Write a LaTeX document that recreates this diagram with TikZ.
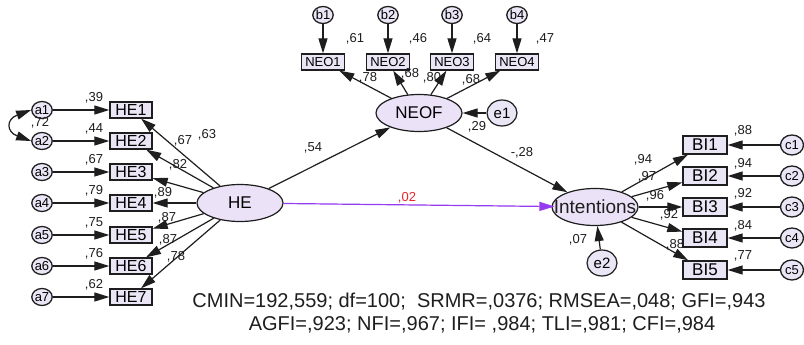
\documentclass[tikz,border=0pt]{standalone}
\usepackage{fontspec}
\setmainfont{Liberation Sans}
\usetikzlibrary{positioning,calc,arrows.meta,shapes.geometric}
\definecolor{boxfill}{RGB}{234,230,246}
\definecolor{latfill}{RGB}{236,226,248}
\definecolor{inkgray}{RGB}{30,30,30}
\definecolor{pathpurple}{RGB}{150,60,240}
\definecolor{labred}{RGB}{230,40,40}

\begin{document}
\begin{tikzpicture}[x=1pt, y=-1pt,
 amos/.tip = {Triangle[length=15pt,width=9pt]},
 obs/.style = {rectangle, draw=inkgray, line width=1.3pt, fill=boxfill, minimum width=42pt, minimum height=16pt, inner sep=0pt, font=\fontsize{16}{16}\selectfont},
 lat/.style = {ellipse, draw=inkgray, line width=1.2pt, fill=latfill, minimum width=86pt, minimum height=37pt, inner sep=0pt, font=\fontsize{17}{17}\selectfont},
 err/.style = {ellipse, draw=inkgray, line width=1.3pt, fill=boxfill, minimum width=20pt, minimum height=17pt, inner sep=0pt, font=\fontsize{13}{13}\selectfont},
 dist/.style = {ellipse, draw=inkgray, line width=1.2pt, fill=boxfill, minimum width=30pt, minimum height=26pt, inner sep=0pt, font=\fontsize{15}{15}\selectfont},
 lbl/.style = {inner sep=0pt, text=inkgray, font=\fontsize{13}{13}\selectfont},
 every edge/.append style={-amos, draw=inkgray, line width=1.2pt}]

\fill[white] (0,0) rectangle (804,345);
\useasboundingbox (0,0) rectangle (804,345);
\clip (0,0) rectangle (804,345);

% HE block
\node[err] (a1) at (42,110) {a1};
\node[err] (a2) at (42,141) {a2};
\node[err] (a3) at (42,172) {a3};
\node[err] (a4) at (42,203) {a4};
\node[err] (a5) at (42,235) {a5};
\node[err] (a6) at (42,266) {a6};
\node[err] (a7) at (42,297) {a7};
\node[obs] (HE1) at (131,110) {HE1};
\node[obs] (HE2) at (131,141) {HE2};
\node[obs] (HE3) at (131,172) {HE3};
\node[obs] (HE4) at (131,203) {HE4};
\node[obs] (HE5) at (131,235) {HE5};
\node[obs] (HE6) at (131,266) {HE6};
\node[obs] (HE7) at (131,297) {HE7};
\node[lat] (HE) at (240,203) {HE};

% NEOF block
\node[lat] (NEOF) at (419,113) {NEOF};
\node[dist] (e1) at (502,113) {e1};
\node[err] (b1) at (323,15) {b1};
\node[err] (b2) at (388,15) {b2};
\node[err] (b3) at (452,15) {b3};
\node[err] (b4) at (517,15) {b4};
\node[obs, font=\fontsize{13}{13}\selectfont, minimum width=43pt] (NEO1) at (323,62) {NEO1};
\node[obs, font=\fontsize{13}{13}\selectfont, minimum width=43pt] (NEO2) at (388,62) {NEO2};
\node[obs, font=\fontsize{13}{13}\selectfont, minimum width=43pt] (NEO3) at (452,62) {NEO3};
\node[obs, font=\fontsize{13}{13}\selectfont, minimum width=43pt] (NEO4) at (517,62) {NEO4};

% Intentions block
\node[lat, label={[font=\fontsize{19}{19}\selectfont, text=inkgray]center:Intentions}] (Int) at (595,207) {};
\node[dist] (e2) at (602,263) {e2};
\node[obs, font=\fontsize{17}{17}\selectfont, minimum width=44pt, minimum height=18pt] (BI1) at (705,145) {BI1};
\node[obs, font=\fontsize{17}{17}\selectfont, minimum width=44pt, minimum height=18pt] (BI2) at (705,176) {BI2};
\node[obs, font=\fontsize{17}{17}\selectfont, minimum width=44pt, minimum height=18pt] (BI3) at (705,207) {BI3};
\node[obs, font=\fontsize{17}{17}\selectfont, minimum width=44pt, minimum height=18pt] (BI4) at (705,238) {BI4};
\node[obs, font=\fontsize{17}{17}\selectfont, minimum width=44pt, minimum height=18pt] (BI5) at (705,270) {BI5};
\node[err, minimum width=23pt, minimum height=20pt] (c1) at (792,145) {c1};
\node[err, minimum width=23pt, minimum height=20pt] (c2) at (792,176) {c2};
\node[err, minimum width=23pt, minimum height=20pt] (c3) at (792,207) {c3};
\node[err, minimum width=23pt, minimum height=20pt] (c4) at (792,238) {c4};
\node[err, minimum width=23pt, minimum height=20pt] (c5) at (792,270) {c5};

\path
 (a1) edge (HE1)
 (a2) edge (HE2)
 (a3) edge (HE3)
 (a4) edge (HE4)
 (a5) edge (HE5)
 (a6) edge (HE6)
 (a7) edge (HE7)
 (HE) edge (HE1)
 (HE) edge (HE2)
 (HE) edge (HE3)
 (HE) edge (HE4)
 (HE) edge (HE5)
 (HE) edge (HE6)
 (HE) edge (HE7)
 (b1) edge (NEO1)
 (b2) edge (NEO2)
 (b3) edge (NEO3)
 (b4) edge (NEO4)
 (NEOF) edge (NEO1)
 (NEOF) edge (NEO2)
 (NEOF) edge (NEO3)
 (NEOF) edge (NEO4)
 (e1) edge (NEOF)
 (HE) edge (NEOF)
 (NEOF) edge (Int)
 (e2) edge (Int)
 (Int) edge (BI1)
 (Int) edge (BI2)
 (Int) edge (BI3)
 (Int) edge (BI4)
 (Int) edge (BI5)
 (c1) edge (BI1)
 (c2) edge (BI2)
 (c3) edge (BI3)
 (c4) edge (BI4)
 (c5) edge (BI5);
\path (HE) edge[draw=pathpurple, fill=pathpurple, shorten >=-3pt] (Int);
\draw[amos-amos, draw=inkgray, line width=1.2pt] (a1.west) to[out=200, in=160, looseness=2.2] (a2.west);

% estimates
\node[lbl] (r72) at (40,123) {,72};
\node[lbl] (rHE1) at (94,98) {,39};
\node[lbl] (rHE2) at (94,129) {,44};
\node[lbl] (rHE3) at (94,160) {,67};
\node[lbl] (rHE4) at (94,191) {,79};
\node[lbl] (rHE5) at (94,223) {,75};
\node[lbl] (rHE6) at (94,254) {,76};
\node[lbl] (rHE7) at (94,285) {,62};
\node[lbl] (wHE1) at (207,135) {,63};
\node[lbl] (wHE2) at (183,141) {,67};
\node[lbl] (wHE3) at (178,165) {,82};
\node[lbl] (wHE4) at (163,193) {,89};
\node[lbl] (wHE5) at (167,218) {,87};
\node[lbl] (wHE6) at (168,240) {,87};
\node[lbl] (wHE7) at (176,257) {,78};
\node[lbl] (rNEO1) at (355,39) {,61};
\node[lbl] (rNEO2) at (418,39) {,46};
\node[lbl] (rNEO3) at (482,39) {,64};
\node[lbl] (rNEO4) at (545,39) {,47};
\node[lbl] (wNEO1) at (368,78) {,78};
\node[lbl] (wNEO2) at (410,74) {,68};
\node[lbl] (wNEO3) at (432,78) {,80};
\node[lbl] (wNEO4) at (471,80) {,68};
\node[lbl] (rNEOF) at (477,127) {,29};
\node[lbl] (bHENEOF) at (313,148) {,54};
\node[lbl] (bNEOFInt) at (522,153) {-,28};
\node[lbl, text=labred] (bHEInt) at (407,198) {,02};
\node[lbl] (rInt) at (578,240) {,07};
\node[lbl] (wBI1) at (643,160) {,94};
\node[lbl] (wBI2) at (647,177) {,97};
\node[lbl] (wBI3) at (655,196) {,96};
\node[lbl] (wBI4) at (669,215) {,92};
\node[lbl] (wBI5) at (675,245) {,88};
\node[lbl] (rBI1) at (743,131) {,88};
\node[lbl] (rBI2) at (743,164) {,94};
\node[lbl] (rBI3) at (743,194) {,92};
\node[lbl] (rBI4) at (743,226) {,84};
\node[lbl] (rBI5) at (743,256) {,77};

% fit indices
\node[text=inkgray, font=\fontsize{20}{20}\selectfont] (fit1) at (479,302) {CMIN=192,559; df=100;\ \ SRMR=,0376; RMSEA=,048; GFI=,943};
\node[text=inkgray, font=\fontsize{20}{20}\selectfont] (fit2) at (482,325) {AGFI=,923; NFI=,967; IFI= ,984; TLI=,981; CFI=,984};
\end{tikzpicture}
\end{document}
